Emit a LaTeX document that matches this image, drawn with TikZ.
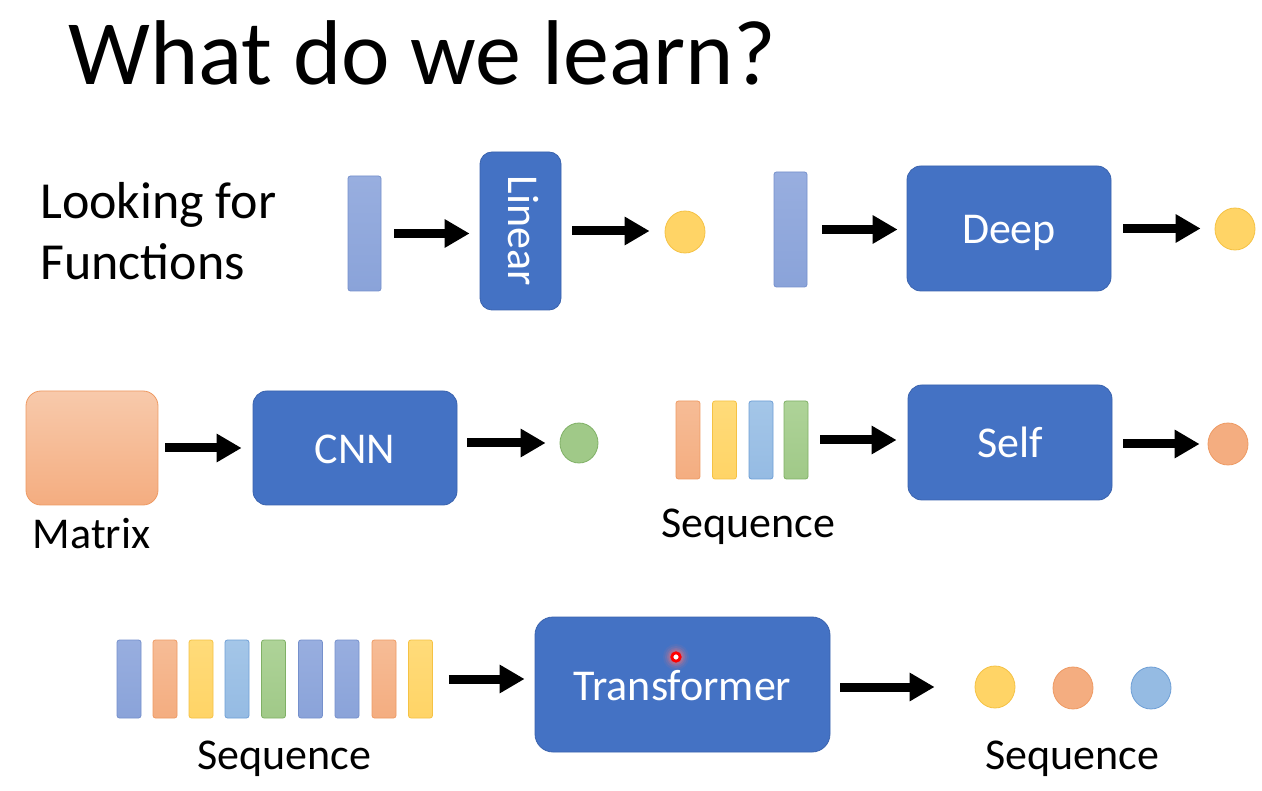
\documentclass[tikz,border=0pt]{standalone}
\usepackage{fontspec}
\setmainfont{Carlito}
\usetikzlibrary{arrows.meta,shapes.geometric}

\definecolor{boxblue}{HTML}{4472C4}
\definecolor{boxedge}{HTML}{3A63AE}
\definecolor{purpleT}{HTML}{98AEDF}
\definecolor{purpleB}{HTML}{8AA3D9}
\definecolor{purpleE}{HTML}{7590CC}
\definecolor{orangeT}{HTML}{F6BC96}
\definecolor{orangeB}{HTML}{F4AD80}
\definecolor{orangeE}{HTML}{EE9A63}
\definecolor{yellowT}{HTML}{FFDB7A}
\definecolor{yellowB}{HTML}{FFD466}
\definecolor{yellowE}{HTML}{F5C244}
\definecolor{lblueT}{HTML}{A4C6E8}
\definecolor{lblueB}{HTML}{95BBE3}
\definecolor{lblueE}{HTML}{6E9FD6}
\definecolor{greenT}{HTML}{AED398}
\definecolor{greenB}{HTML}{A0C988}
\definecolor{greenE}{HTML}{7FB065}

\begin{document}
\begin{tikzpicture}[x=1pt,y=-1pt,
  box/.style={draw=boxedge, fill=boxblue, line width=0.8pt, rounded corners=14pt,
    text=white, inner sep=0pt, text height=31pt, text depth=0pt,
    font=\fontsize{44}{44}\selectfont},
  bar/.style={rectangle, rounded corners=2.5pt, line width=0.8pt, inner sep=0pt,
    minimum width=24pt, minimum height=78pt},
  purplebar/.style={bar, draw=purpleE, top color=purpleT, bottom color=purpleB},
  orangebar/.style={bar, draw=orangeE, top color=orangeT, bottom color=orangeB},
  yellowbar/.style={bar, draw=yellowE, top color=yellowT, bottom color=yellowB},
  lbluebar/.style={bar, draw=lblueE, top color=lblueT, bottom color=lblueB},
  greenbar/.style={bar, draw=greenE, top color=greenT, bottom color=greenB},
  dot/.style={ellipse, inner sep=0pt, line width=0.8pt, minimum width=40pt, minimum height=42pt},
  yellowdot/.style={dot, draw=yellowE, fill=yellowB},
  orangedot/.style={dot, draw=orangeE, fill=orangeB},
  greendot/.style={dot, draw=greenE, fill=greenB},
  bluedot/.style={dot, draw=lblueE, fill=lblueB},
  label/.style={inner sep=0pt, anchor=base, font=\fontsize{44}{44}\selectfont},
  flow/.style={line width=9pt, -{Triangle[length=25pt,width=27pt]}}
]
\useasboundingbox (0,0) rectangle (1262,791);
\fill[white] (0,0) rectangle (1262,791);

% title and side text
\node[inner sep=0pt, anchor=base west, font=\fontsize{92}{92}\selectfont] (title) at (68,85) {What do we learn?};
\node[inner sep=0pt, anchor=base west, font=\fontsize{52}{52}\selectfont] (look) at (40,219) {Looking for};
\node[inner sep=0pt, anchor=base west, font=\fontsize{52}{52}\selectfont] (func) at (40,280) {Functions};

% row 1: linear and deep models
\node[purplebar, minimum width=33pt, minimum height=115pt] (vin1) at (364.5,233.5) {};
\node[box, rounded corners=12pt, minimum width=81pt, minimum height=158pt,
  text height=, text depth=] (linear) at (520.5,231) {\rotatebox{-90}{Linear\vphantom{p}}};
\node[yellowdot] (out1) at (685,232) {};

\node[purplebar, minimum width=33pt, minimum height=115pt] (vin2) at (790.5,229.5) {};
\node[box, minimum width=204pt, minimum height=125pt] (deep) at (1009,228.5) {Deep};
\node[yellowdot] (out2) at (1235,229) {};

% row 2: CNN and self-attention
\node[rectangle, rounded corners=15pt, line width=0.8pt, draw=orangeE, top color=orangeT!80!white, bottom color=orangeB,
  minimum width=132pt, minimum height=114pt, inner sep=0pt] (matrix) at (92,448) {};
\node[label] (matlab) at (91.5,548) {Matrix};
\node[box, minimum width=204pt, minimum height=114pt] (cnn) at (355,448) {CNN};
\node[greendot, minimum width=38pt, minimum height=40pt] (out3) at (579,443) {};

\node[orangebar] (s1) at (688,440) {};
\node[yellowbar] (s2) at (724.5,440) {};
\node[lbluebar]  (s3) at (761,440) {};
\node[greenbar]  (s4) at (796,440) {};
\node[label] (seqlab1) at (748.5,537) {Sequence};
\node[box, minimum width=204pt, minimum height=115pt] (self) at (1010,442.5) {Self};
\node[orangedot] (out4) at (1228,444) {};

% row 3: transformer, sequence to sequence
\node[purplebar] (t1) at (129,679) {};
\node[orangebar] (t2) at (165,679) {};
\node[yellowbar] (t3) at (201,679) {};
\node[lbluebar]  (t4) at (237,679) {};
\node[greenbar]  (t5) at (273.5,679) {};
\node[purplebar] (t6) at (310.5,679) {};
\node[purplebar] (t7) at (347,679) {};
\node[orangebar] (t8) at (384,679) {};
\node[yellowbar] (t9) at (420.5,679) {};
\node[label] (seqlab2) at (284.5,769) {Sequence};
\node[box, rounded corners=18pt, minimum width=295pt, minimum height=135pt] (trans) at (682.5,684.5) {Transformer};
\node[yellowdot] (o1) at (995,687) {};
\node[orangedot] (o2) at (1073,688) {};
\node[bluedot]   (o3) at (1151,688) {};
\node[label] (seqlab3) at (1072.5,769) {Sequence};

% laser pointer spot
\coordinate (spot) at (676,657);
\foreach \r/\o in {13/0.08,11/0.12,9/0.18,7.5/0.25}
  \fill[red!55!white, opacity=\o] (spot) circle (\r pt);
\draw[red, line width=2.8pt, fill=white] (spot) circle (4.2pt);

% arrows
\draw[flow, shorten <=13pt, shorten >=10pt] (vin1.east) -- (vin1.east -| linear.west);
\draw[flow, shorten <=11pt, shorten >=15pt] (linear.east) -- (linear.east -| out1.west);
\draw[flow, shorten <=15pt, shorten >=9pt]  (vin2.east) -- (vin2.east -| deep.west);
\draw[flow, shorten <=12pt, shorten >=14pt] (deep.east) -- (deep.east -| out2.west);
\draw[flow, shorten <=7pt,  shorten >=11pt] (matrix.east) -- (matrix.east -| cnn.west);
\draw[flow, shorten <=10pt, shorten >=14pt] (out3.west -| cnn.east) -- (out3.west);
\draw[flow, shorten <=12pt, shorten >=11pt] (s4.east) -- (s4.east -| self.west);
\draw[flow, shorten <=11pt, shorten >=8pt]  (out4.west -| self.east) -- (out4.west);
\draw[flow, shorten <=16pt, shorten >=10pt] (t9.east) -- (t9.east -| trans.west);
\draw[flow, shorten <=10pt, shorten >=40pt] (o1.west -| trans.east) -- (o1.west);
\end{tikzpicture}
\end{document}
